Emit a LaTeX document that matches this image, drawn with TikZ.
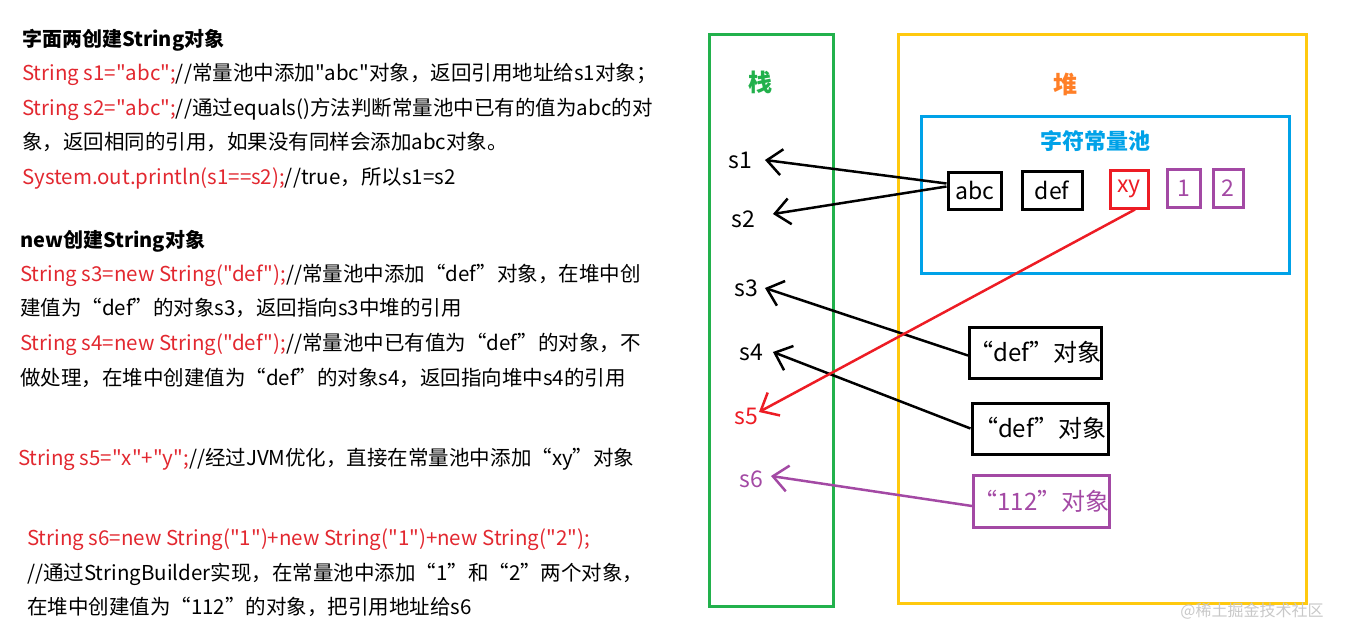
\documentclass[tikz,border=0pt]{standalone}
\usepackage{fontspec}
\newfontfamily\cjk{Noto Sans CJK SC}
\usetikzlibrary{arrows.meta}
\definecolor{cgreen}{RGB}{34,177,76}
\definecolor{cyellow}{RGB}{255,201,14}
\definecolor{cblue}{RGB}{0,162,232}
\definecolor{cred}{RGB}{237,28,36}
\definecolor{tred}{RGB}{226,40,48}
\definecolor{cpurple}{RGB}{163,73,164}
\definecolor{corange}{RGB}{255,127,39}
\definecolor{cgray}{RGB}{200,200,200}
\tikzset{
  txt/.style={anchor=base west,inner sep=0pt,font=\cjk\fontsize{20.5}{20}\selectfont},
  hdr/.style={anchor=base west,inner sep=0pt,font=\cjk\fontsize{20}{20}\selectfont\bfseries},
  lbl/.style={inner sep=0pt,font=\cjk\fontsize{23}{23}\selectfont},
  title/.style={inner sep=0pt,font=\cjk\fontsize{24}{24}\selectfont\bfseries},
  area/.style={draw,line width=3pt,inner sep=0pt},
  pbox/.style={draw,line width=3pt,inner sep=0pt,font=\cjk\fontsize{23}{23}\selectfont},
  obox/.style={draw,line width=3pt,inner sep=0pt,font=\cjk\fontsize{24}{24}\selectfont},
  arr/.style={line width=2.5pt,-{Straight Barb[length=15pt,width=26pt]}}
}
\begin{document}
\begin{tikzpicture}[x=1pt,y=-1pt]
\useasboundingbox (0,0) rectangle (1351,642);
% left text
\node[hdr] (h1) at (22,47) {字面两创建String对象};
\node[txt] (l1) at (22,80) {\textcolor{tred}{String s1="abc";}//常量池中添加"abc"对象，返回引用地址给s1对象；};
\node[txt] (l2) at (22,115) {\textcolor{tred}{String s2="abc";}//通过equals()方法判断常量池中已有的值为abc的对};
\node[txt] (l3) at (22,149) {象，返回相同的引用，如果没有同样会添加abc对象。};
\node[txt] (l4) at (22,184) {\textcolor{tred}{System.out.println(s1==s2);}//true，所以s1=s2};
\node[hdr] (h2) at (20,247) {new创建String对象};
\node[txt] (l5) at (20,281) {\textcolor{tred}{String s3=new String("def");}//常量池中添加“def”对象，在堆中创};
\node[txt] (l6) at (20,315) {建值为“def”的对象s3，返回指向s3中堆的引用};
\node[txt] (l7) at (20,350) {\textcolor{tred}{String s4=new String("def");}//常量池中已有值为“def”的对象，不};
\node[txt] (l8) at (20,385) {做处理，在堆中创建值为“def”的对象s4，返回指向堆中s4的引用};
\node[txt] (l9) at (18,465) {\textcolor{tred}{String s5="x"+"y";}//经过JVM优化，直接在常量池中添加“xy”对象};
\node[txt] (l10) at (27,545) {\textcolor{tred}{String s6=new String("1")+new String("1")+new String("2");}};
\node[txt] (l11) at (27,580) {//通过StringBuilder实现，在常量池中添加“1”和“2”两个对象，};
\node[txt] (l12) at (27,614) {在堆中创建值为“112”的对象，把引用地址给s6};
% areas
\node[area,draw=cgreen,minimum width=124pt,minimum height=571pt] (stack) at (771,320.5) {};
\node[area,draw=cyellow,minimum width=408pt,minimum height=568pt] (heap) at (1102,319) {};
\node[area,draw=cblue,minimum width=368pt,minimum height=157pt] (pool) at (1105,194.5) {};
\node[title,text=cgreen] (tstack) at (760,82) {栈};
\node[title,text=corange] (theap) at (1065,84) {堆};
\node[title,text=cblue,font=\cjk\fontsize{22}{22}\selectfont\bfseries] (tpool) at (1095,141) {字符常量池};
% stack labels
\node[lbl] (s1) at (740,160) {s1};
\node[lbl] (s2) at (743,219) {s2};
\node[lbl] (s3) at (746,288) {s3};
\node[lbl] (s4) at (751,352) {s4};
\node[lbl,text=cred] (s5) at (746,416) {s5};
\node[lbl,text=cpurple] (s6) at (751,479) {s6};
% pool boxes
\node[pbox,minimum width=53pt,minimum height=37pt] (abc) at (974.5,190.5) {abc};
\node[pbox,minimum width=60pt,minimum height=38pt] (def) at (1052,190) {\raisebox{-2pt}{def}};
\node[pbox,draw=cred,text=cred,minimum width=38pt,minimum height=38pt] (xy) at (1129,189) {\raisebox{3pt}{xy}};
\node[pbox,draw=cpurple,text=cpurple,minimum width=33pt,minimum height=38pt] (one) at (1183.5,188) {\raisebox{-2pt}{1}};
\node[pbox,draw=cpurple,text=cpurple,minimum width=30pt,minimum height=38pt] (two) at (1228,188) {\raisebox{-2pt}{2}};
% heap objects
\node[obox,minimum width=131pt,minimum height=51pt] (o1) at (1035.5,352.5) {“def”对象};
\node[obox,minimum width=136pt,minimum height=51pt] (o2) at (1040,428.5) {“def”对象};
\node[obox,draw=cpurple,text=cpurple,minimum width=135pt,minimum height=52pt] (o3) at (1041.5,501) {“112”对象};
% arrows
\draw[arr] ([yshift=7pt]abc.west) -- ([xshift=13pt]s1.east);
\draw[arr] ([yshift=4pt]abc.west) -- ([xshift=18pt,yshift=5pt]s2.east);
\draw[arr] ([yshift=-3pt]o1.west) -- ([xshift=7pt]s3.east);
\draw[arr] (o2.west) -- ([xshift=10pt]s4.east);
\draw[arr,draw=cred] ([xshift=6pt]xy.south) -- ([xshift=1pt,yshift=4pt]s5.east);
\draw[arr,draw=cpurple] ([yshift=-5pt]o3.west) -- ([xshift=8pt,yshift=3pt]s6.east);
% watermark
\node[inner sep=0pt,text=cgray,font=\cjk\fontsize{16}{16}\selectfont] (wm) at (1252,611) {@稀土掘金技术社区};
\end{tikzpicture}
\end{document}
